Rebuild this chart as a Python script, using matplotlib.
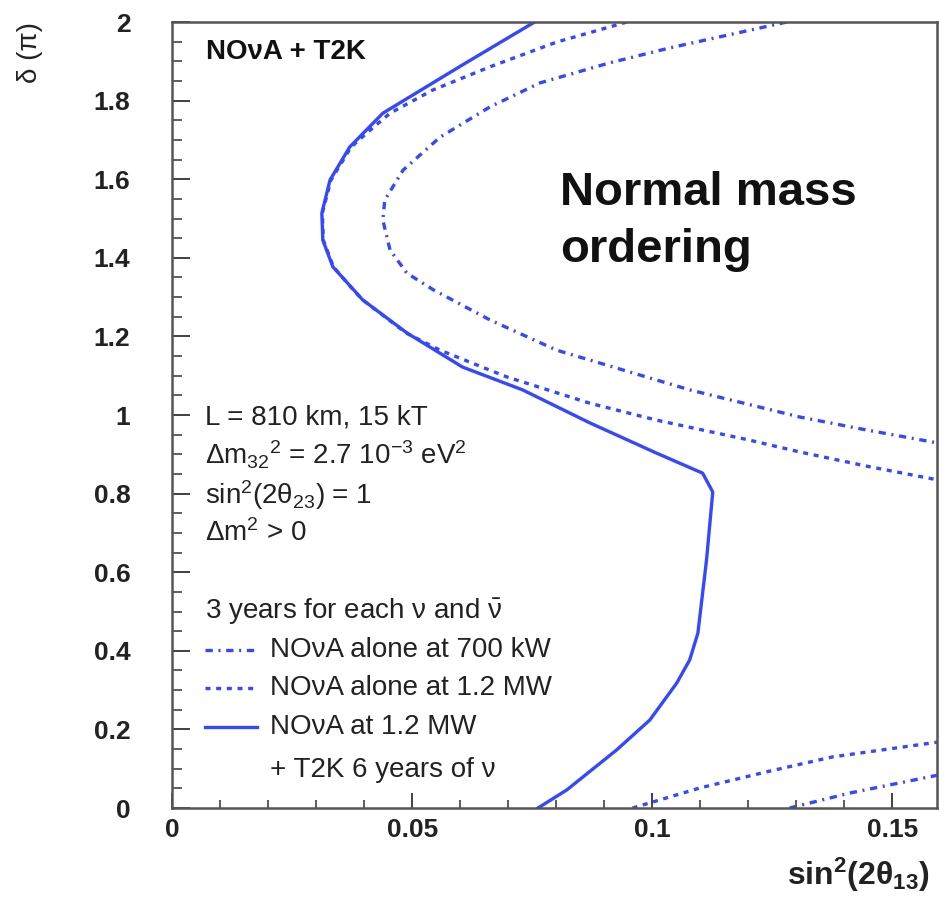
import matplotlib
matplotlib.use("Agg")
import matplotlib.pyplot as plt
from matplotlib.ticker import MultipleLocator

plt.rcParams['font.family'] = ['Liberation Sans', 'DejaVu Sans']
plt.rcParams['mathtext.fontset'] = 'custom'
plt.rcParams['mathtext.rm'] = 'Liberation Sans'
plt.rcParams['mathtext.it'] = 'Liberation Sans:italic'
plt.rcParams['mathtext.bf'] = 'Liberation Sans:bold'
plt.rcParams['mathtext.default'] = 'regular'

# NOvA at 1.2 MW + T2K (solid)
comb_x = [0.0755, 0.0605, 0.0439, 0.0370, 0.0329, 0.0312, 0.0314, 0.0335, 0.0375, 0.0397,
          0.0489, 0.0605, 0.0730, 0.0870, 0.1009, 0.1105, 0.1126, 0.1113, 0.1095, 0.1078,
          0.1051, 0.0995, 0.0926, 0.0822, 0.0762]
comb_y = [2.0, 1.891, 1.768, 1.682, 1.598, 1.514, 1.445, 1.377, 1.323, 1.293,
          1.209, 1.122, 1.064, 0.980, 0.903, 0.852, 0.804, 0.631, 0.445, 0.377,
          0.318, 0.224, 0.148, 0.046, 0.0]

# NOvA alone at 1.2 MW (dashed), upper and lower branches
mw12_top_x = [0.0947, 0.0801, 0.0662, 0.0543, 0.0454, 0.0406, 0.0373, 0.0331, 0.0313, 0.0315,
              0.0336, 0.0374, 0.0397, 0.0487, 0.0558, 0.0697, 0.0870, 0.1009, 0.1203, 0.1307,
              0.1446, 0.1594]
mw12_top_y = [2.0, 1.949, 1.886, 1.827, 1.768, 1.718, 1.682, 1.598, 1.514, 1.445,
              1.377, 1.323, 1.293, 1.209, 1.165, 1.097, 1.030, 0.987, 0.936, 0.906,
              0.870, 0.835]
mw12_bot_x = [0.0959, 0.1099, 0.1238, 0.1375, 0.1596]
mw12_bot_y = [0.0, 0.051, 0.092, 0.130, 0.168]

# NOvA alone at 700 kW (dash-dot), upper and lower branches
kw700_top_x = [0.1280, 0.1036, 0.0911, 0.0766, 0.0662, 0.0558, 0.0481, 0.0443, 0.0439,
               0.0454, 0.0489, 0.0545, 0.0662, 0.0801, 0.0938, 0.1078, 0.1307, 0.1446, 0.1594]
kw700_top_y = [2.0, 1.934, 1.896, 1.845, 1.784, 1.707, 1.623, 1.547, 1.496,
               1.420, 1.361, 1.318, 1.242, 1.165, 1.115, 1.064, 0.995, 0.962, 0.929]
kw700_bot_x = [0.1286, 0.1411, 0.1596]
kw700_bot_y = [0.0, 0.038, 0.084]

blue = '#3348ff'
dashed = (0, (1.5, 1.7))
dashdot = (0, (2.2, 1.7, 0.6, 1.7))

fig = plt.figure(figsize=(9.39, 8.99), dpi=100)
ax = fig.add_axes([0.1832, 0.1012, 0.8147, 0.8743])

ax.plot(kw700_top_x, kw700_top_y, color=blue, lw=2.4, ls=dashdot)
ax.plot(kw700_bot_x, kw700_bot_y, color=blue, lw=2.4, ls=dashdot)
ax.plot(mw12_top_x, mw12_top_y, color=blue, lw=2.4, ls=dashed)
ax.plot(mw12_bot_x, mw12_bot_y, color=blue, lw=2.4, ls=dashed)
ax.plot(comb_x, comb_y, color=blue, lw=2.4)

ax.set_xlim(0, 0.1593)
ax.set_ylim(0, 2)
ax.xaxis.set_major_locator(MultipleLocator(0.05))
ax.xaxis.set_minor_locator(MultipleLocator(0.01))
ax.yaxis.set_major_locator(MultipleLocator(0.2))
ax.yaxis.set_minor_locator(MultipleLocator(0.05))
ax.xaxis.set_major_formatter(plt.FuncFormatter(lambda v, p: ('%g' % round(v, 3))))
ax.yaxis.set_major_formatter(plt.FuncFormatter(lambda v, p: ('%g' % round(v, 3))))

ax.tick_params(axis='x', which='major', direction='in', length=11, width=1.3, pad=7,
               labelsize=19, colors='#333333', labelcolor='#222222')
ax.tick_params(axis='x', which='minor', direction='in', length=6, width=1.1, colors='#333333')
ax.tick_params(axis='y', which='major', direction='in', length=13, width=1.3, pad=30,
               labelsize=19, colors='#333333', labelcolor='#222222')
ax.tick_params(axis='y', which='minor', direction='in', length=7, width=1.1, colors='#333333')
for lab in ax.get_xticklabels() + ax.get_yticklabels():
    lab.set_fontweight('bold')
for s in ax.spines.values():
    s.set_color('#555555')
    s.set_linewidth(1.8)

fig.text(0.838, 0.0156, r'sin$^{\mathbf{2}}$(2θ$_{\mathbf{13}}$)', ha='left', va='baseline',
         fontsize=23, fontweight='bold', color='#222222')
fig.text(0.032, 0.975, 'δ (π)', rotation=90, ha='center', va='top', fontsize=20, color='#222222')

ax.text(0.045, 0.962, 'NOνA + T2K', transform=ax.transAxes, fontsize=20,
        fontweight='bold', va='center', color='#111111')
ax.text(0.507, 0.782, 'Normal mass', transform=ax.transAxes, fontsize=34,
        fontweight='bold', va='center', color='#111111')
ax.text(0.507, 0.710, 'ordering', transform=ax.transAxes, fontsize=34,
        fontweight='bold', va='center', color='#111111')

info = ['L = 810 km, 15 kT',
        r'Δm$_{32}$$^{2}$ = 2.7 10$^{-3}$ eV$^{2}$',
        r'sin$^{2}$(2θ$_{23}$) = 1',
        r'Δm$^{2}$ > 0']
info_y = [0.497, 0.449, 0.398, 0.350]
for t, yy in zip(info, info_y):
    ax.text(0.043, yy, t, transform=ax.transAxes, fontsize=20, va='center', color='#222222')

ax.text(0.043, 0.249, r'3 years for each ν and $\bar{\nu}$', transform=ax.transAxes,
        fontsize=20, va='center', color='#222222')
leg_labels = ['NOνA alone at 700 kW', 'NOνA alone at 1.2 MW', 'NOνA at 1.2 MW']
leg_styles = [dashdot, dashed, '-']
leg_y = [0.201, 0.153, 0.103]
for lab, st, yy in zip(leg_labels, leg_styles, leg_y):
    ax.plot([0.043, 0.111], [yy, yy], transform=ax.transAxes, color=blue, lw=2.4, ls=st)
    ax.text(0.128, yy, lab, transform=ax.transAxes, fontsize=20, va='center', color='#222222')
ax.text(0.128, 0.048, '+ T2K 6 years of ν', transform=ax.transAxes, fontsize=20,
        va='center', color='#222222')

fig.savefig('out.png', dpi=100)
